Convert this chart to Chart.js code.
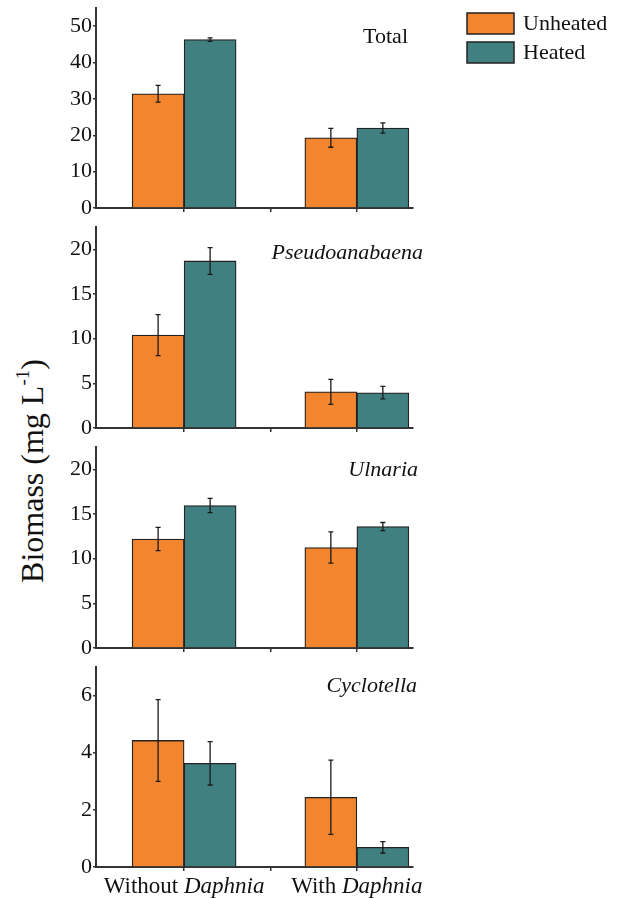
<!DOCTYPE html>
<html>
<head>
<meta charset="utf-8">
<script src="https://cdn.jsdelivr.net/npm/chart.js@4.4.0/dist/chart.umd.min.js"></script>
<style>
html,body{margin:0;padding:0;background:#fff;}
#wrap{position:relative;width:620px;height:898px;overflow:hidden;background:#fff;}
#wrap canvas{position:absolute;left:0;}
#ytitle{position:absolute;left:32px;top:471px;transform:translate(-50%,-50%) rotate(-90deg);font:32px 'Liberation Serif',serif;white-space:nowrap;color:#111;line-height:1;}
#ytitle sup{font-size:19px;line-height:0;position:relative;top:-2px;}
</style>
</head>
<body>
<div id="wrap"><div id="ytitle">Biomass (mg L<sup>-1</sup>)</div></div>
<script>
// ---------- data ----------
const categories = ['Without', 'With'];
const categoryItalic = 'Daphnia';
const seriesNames = ['Unheated', 'Heated'];
const panelTitles = ['Total', 'Pseudoanabaena', 'Ulnaria', 'Cyclotella'];

const totalUnheated = [31.4, 19.3];
const totalHeated = [46.3, 22.0];
const totalUnheatedErr = [2.3, 2.6];
const totalHeatedErr = [0.5, 1.4];

const pseudoUnheated = [10.4, 4.05];
const pseudoHeated = [18.7, 3.95];
const pseudoUnheatedErr = [2.3, 1.4];
const pseudoHeatedErr = [1.5, 0.7];

const ulnariaUnheated = [12.2, 11.25];
const ulnariaHeated = [15.95, 13.6];
const ulnariaUnheatedErr = [1.3, 1.75];
const ulnariaHeatedErr = [0.8, 0.45];

const cycloUnheated = [4.43, 2.44];
const cycloHeated = [3.63, 0.69];
const cycloUnheatedErr = [1.43, 1.3];
const cycloHeatedErr = [0.76, 0.2];

const totalTicks = [0, 10, 20, 30, 40, 50];
const pseudoTicks = [0, 5, 10, 15, 20];
const ulnariaTicks = [0, 5, 10, 15, 20];
const cycloTicks = [0, 2, 4, 6];
const axisMax = [55, 22.5, 22.5, 7];

// ---------- styling ----------
const COLORS = ['#F2852E', '#408080'];
const EDGE = '#222';
const FONT = "'Liberation Serif', serif";
const X_MIN = -0.51, X_MAX = 1.325;

const panels = [
  {un: totalUnheated, he: totalHeated, unE: totalUnheatedErr, heE: totalHeatedErr, ticks: totalTicks, italic: false, top: 8, bottom: 208, titleRight: 408, titleBase: 43, padTop: 20, padBottom: 20, legend: true},
  {un: pseudoUnheated, he: pseudoHeated, unE: pseudoUnheatedErr, heE: pseudoHeatedErr, ticks: pseudoTicks, italic: true, top: 227, bottom: 428, titleRight: 423, titleBase: 259, padTop: 20, padBottom: 20},
  {un: ulnariaUnheated, he: ulnariaHeated, unE: ulnariaUnheatedErr, heE: ulnariaHeatedErr, ticks: ulnariaTicks, italic: true, top: 447, bottom: 648, titleRight: 418, titleBase: 476, padTop: 20, padBottom: 20},
  {un: cycloUnheated, he: cycloHeated, unE: cycloUnheatedErr, heE: cycloHeatedErr, ticks: cycloTicks, italic: true, top: 667, bottom: 867, titleRight: 417, titleBase: 692, padTop: 20, padBottom: 31, xLabels: true}
];

const xTickValues = [];
categories.forEach((c, i) => { xTickValues.push(i); if (i < categories.length - 1) xTickValues.push(i + 0.5); });

const errorBars = {
  id: 'errorBars',
  afterDatasetsDraw(chart) {
    const ctx = chart.ctx, ys = chart.scales.y;
    chart.data.datasets.forEach((ds, di) => {
      const meta = chart.getDatasetMeta(di);
      meta.data.forEach((bar, i) => {
        const v = ds.data[i].y, e = ds.errors[i];
        const yt = ys.getPixelForValue(v + e), yb = ys.getPixelForValue(v - e);
        ctx.save();
        ctx.strokeStyle = '#1a1a1a'; ctx.lineWidth = 1.3;
        ctx.beginPath();
        ctx.moveTo(bar.x, yt); ctx.lineTo(bar.x, yb);
        ctx.moveTo(bar.x - 2.5, yt); ctx.lineTo(bar.x + 2.5, yt);
        ctx.moveTo(bar.x - 2.5, yb); ctx.lineTo(bar.x + 2.5, yb);
        ctx.stroke();
        ctx.restore();
      });
    });
  }
};

const decorations = {
  id: 'decorations',
  afterDraw(chart, args, o) {
    const ctx = chart.ctx;
    const off = o.canvasTop;
    ctx.save();
    ctx.fillStyle = '#111';
    // panel title
    ctx.font = (o.italic ? 'italic ' : '') + '22px ' + FONT;
    ctx.textAlign = 'right'; ctx.textBaseline = 'alphabetic';
    ctx.fillText(o.title, o.titleRight, o.titleBase - off);
    // legend
    if (o.legend) {
      chart.data.datasets.forEach((ds, i) => {
        const by = 13 + i * 29 - off;
        ctx.fillStyle = ds.backgroundColor;
        ctx.fillRect(467, by, 47, 21);
        ctx.strokeStyle = EDGE; ctx.lineWidth = 1.5;
        ctx.strokeRect(467, by, 47, 21);
        ctx.fillStyle = '#111';
        ctx.font = '22px ' + FONT;
        ctx.textAlign = 'left'; ctx.textBaseline = 'middle';
        ctx.fillText(ds.label, 523, by + 11);
      });
    }
    // category labels
    if (o.xLabels) {
      const xs = chart.scales.x;
      categories.forEach((c, i) => {
        ctx.font = '23px ' + FONT;
        const a = c + ' ';
        const wa = ctx.measureText(a).width;
        ctx.font = 'italic 23px ' + FONT;
        const wb = ctx.measureText(categoryItalic).width;
        const cx = xs.getPixelForValue(i);
        const x0 = cx - (wa + wb) / 2;
        const by = 893 - off;
        ctx.textAlign = 'left'; ctx.textBaseline = 'alphabetic';
        ctx.font = '23px ' + FONT;
        ctx.fillText(a, x0, by);
        ctx.font = 'italic 23px ' + FONT;
        ctx.fillText(categoryItalic, x0 + wa, by);
      });
    }
    ctx.restore();
  }
};

const wrap = document.getElementById('wrap');
panels.forEach((p, k) => {
  const canvasTop = p.top - p.padTop;
  const h = (p.bottom - p.top) + p.padTop + p.padBottom;
  const cv = document.createElement('canvas');
  cv.width = 620; cv.height = h;
  cv.style.top = canvasTop + 'px';
  cv.style.width = '620px'; cv.style.height = h + 'px';
  wrap.appendChild(cv);
  const series = [[p.un, p.unE], [p.he, p.heE]];
  new Chart(cv, {
    type: 'bar',
    data: {
      datasets: series.map((s, i) => ({
        label: seriesNames[i],
        data: categories.map((c, j) => ({x: j, y: s[0][j]})),
        errors: s[1],
        backgroundColor: COLORS[i],
        borderColor: EDGE,
        borderWidth: 1.3,
        barThickness: 52
      }))
    },
    options: {
      responsive: false,
      devicePixelRatio: 1,
      animation: false,
      events: [],
      layout: {padding: {top: p.padTop, bottom: p.padBottom, left: 0, right: 620 - 413}},
      plugins: {
        legend: {display: false},
        tooltip: {enabled: false},
        decorations: {canvasTop: canvasTop, title: panelTitles[k], italic: p.italic, titleRight: p.titleRight, titleBase: p.titleBase, legend: !!p.legend, xLabels: !!p.xLabels}
      },
      scales: {
        x: {
          type: 'linear', min: X_MIN, max: X_MAX, offset: false,
          afterBuildTicks(s) { s.ticks = xTickValues.map(v => ({value: v})); },
          ticks: {callback: () => '', autoSkip: false, padding: 0, maxRotation: 0},
          grid: {offset: false, drawOnChartArea: false, tickLength: 4, color: '#333', lineWidth: 1.5},
          border: {color: '#333', width: 2},
          afterFit(s) { s.height = 0; }
        },
        y: {
          min: 0, max: axisMax[k],
          afterBuildTicks(s) { s.ticks = p.ticks.map(v => ({value: v})); },
          ticks: {color: '#111', font: {family: FONT, size: 22}, padding: 1, autoSkip: false},
          grid: {drawOnChartArea: false, tickLength: 3, color: '#333', lineWidth: 1.5},
          border: {color: '#333', width: 2},
          afterFit(s) { s.width = 96; }
        }
      }
    },
    plugins: [errorBars, decorations]
  });
});
</script>
</body>
</html>
